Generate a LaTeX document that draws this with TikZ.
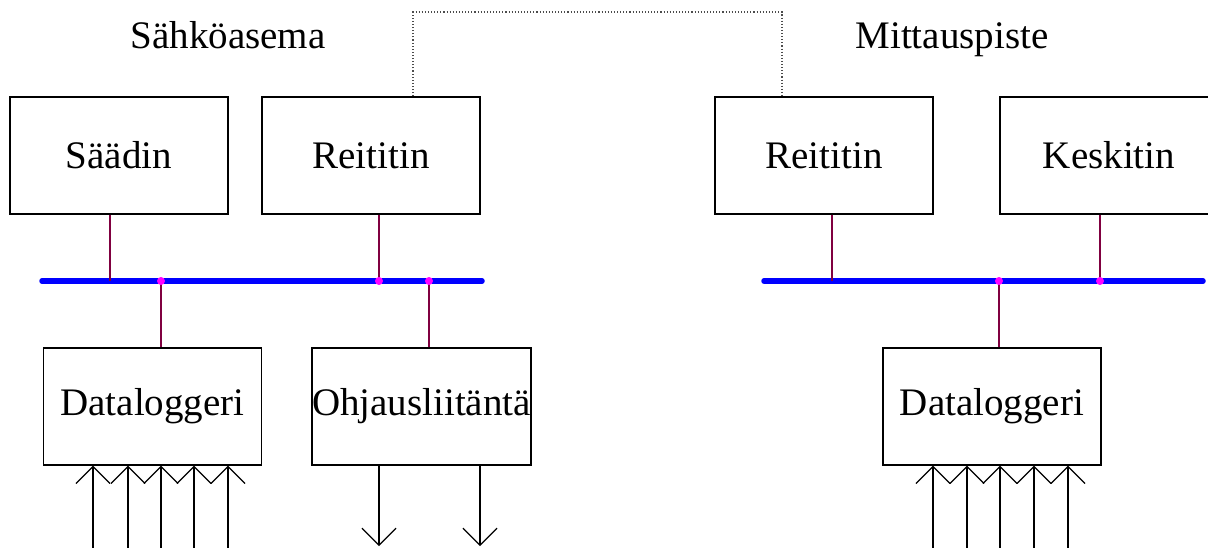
\documentclass[tikz,border=0pt]{standalone}
\usepackage{fontspec}
\setmainfont{Liberation Serif}
\usetikzlibrary{arrows.meta}
\definecolor{buscol}{RGB}{0,0,255}
\definecolor{linkcol}{RGB}{128,0,64}
\definecolor{dotcol}{RGB}{255,0,255}
\tikzset{
  box/.style={draw=black, line width=1.4pt, minimum width=218pt, minimum height=117pt, inner sep=0pt, font=\fontsize{39}{46}\selectfont},
  title/.style={anchor=base, inner sep=0pt, font=\fontsize{39}{46}\selectfont},
  bus/.style={draw=buscol, line width=5.5pt, line cap=round},
  link/.style={draw=linkcol, line width=1.4pt},
  jdot/.style={fill=dotcol, circle, inner sep=0pt, minimum size=8pt},
  dotline/.style={draw=black!70, line width=1.1pt, dotted},
  inarrow/.style={draw=black, line width=1.2pt, -{Straight Barb[length=17pt,width=34pt,line width=1.2pt]}},
}
\begin{document}
\begin{tikzpicture}[x=1pt, y=-1pt]
\clip (0,0) rectangle (1208,547);
\fill[white] (0,0) rectangle (1208,547);
% titles
\node[title] (t1) at (228,48) {Sähköasema};
\node[title] (t2) at (952,48) {Mittauspiste};
% boxes
\node[box] (sa) at (119,155.5) {Säädin};
\node[box] (rl) at (371,155.5) {Reititin};
\node[box] (rr) at (824,155.5) {Reititin};
\node[box] (ke) at (1109,155.5) {Keskitin};
\node[box] (dl) at (152.5,406.5) {Dataloggeri};
\node[box] (oh) at (421.5,406.5) {Ohjausliitäntä};
\node[box] (dr) at (992,406.5) {Dataloggeri};
% dotted link between routers
\coordinate (d1) at (413,12);
\coordinate (d2) at (782,12);
\draw[dotline] (rl.north -| d1) -- (d1) -- (d2) -- (rr.north -| d2);
% buses
\coordinate (bl1) at (42,281);
\coordinate (bl2) at (482,281);
\coordinate (br1) at (764,281);
\coordinate (br2) at (1203,281);
\draw[bus] (bl1) -- (bl2);
\draw[bus] (br1) -- (br2);
% junctions
\coordinate (j1) at (110,281);
\coordinate (j2) at (161,281);
\coordinate (j3) at (379,281);
\coordinate (j4) at (429,281);
\coordinate (j5) at (832,281);
\coordinate (j6) at (999,281);
\coordinate (j7) at (1100,281);
\draw[link] (sa.south -| j1) -- (j1);
\draw[link] (dl.north -| j2) -- (j2);
\draw[link] (rl.south -| j3) -- (j3);
\draw[link] (oh.north -| j4) -- (j4);
\draw[link] (rr.south -| j5) -- (j5);
\draw[link] (dr.north -| j6) -- (j6);
\draw[link] (ke.south -| j7) -- (j7);
\node[jdot] (p2) at (j2) {};
\node[jdot] (p3) at (j3) {};
\node[jdot] (p4) at (j4) {};
\node[jdot] (p6) at (j6) {};
\node[jdot] (p7) at (j7) {};
% input arrows to dataloggers
\foreach \x [count=\i] in {93,128,161,194,228} {
  \coordinate (inl\i) at (\x,560);
  \draw[inarrow] (inl\i) -- (inl\i |- dl.south);
}
\foreach \x [count=\i] in {933,967,1000,1034,1068} {
  \coordinate (inr\i) at (\x,560);
  \draw[inarrow] (inr\i) -- (inr\i |- dr.south);
}
% output arrows from control interface
\foreach \x [count=\i] in {379,480} {
  \coordinate (out\i) at (\x,546);
  \draw[inarrow] (oh.south -| out\i) -- (out\i);
}
\end{tikzpicture}
\end{document}
